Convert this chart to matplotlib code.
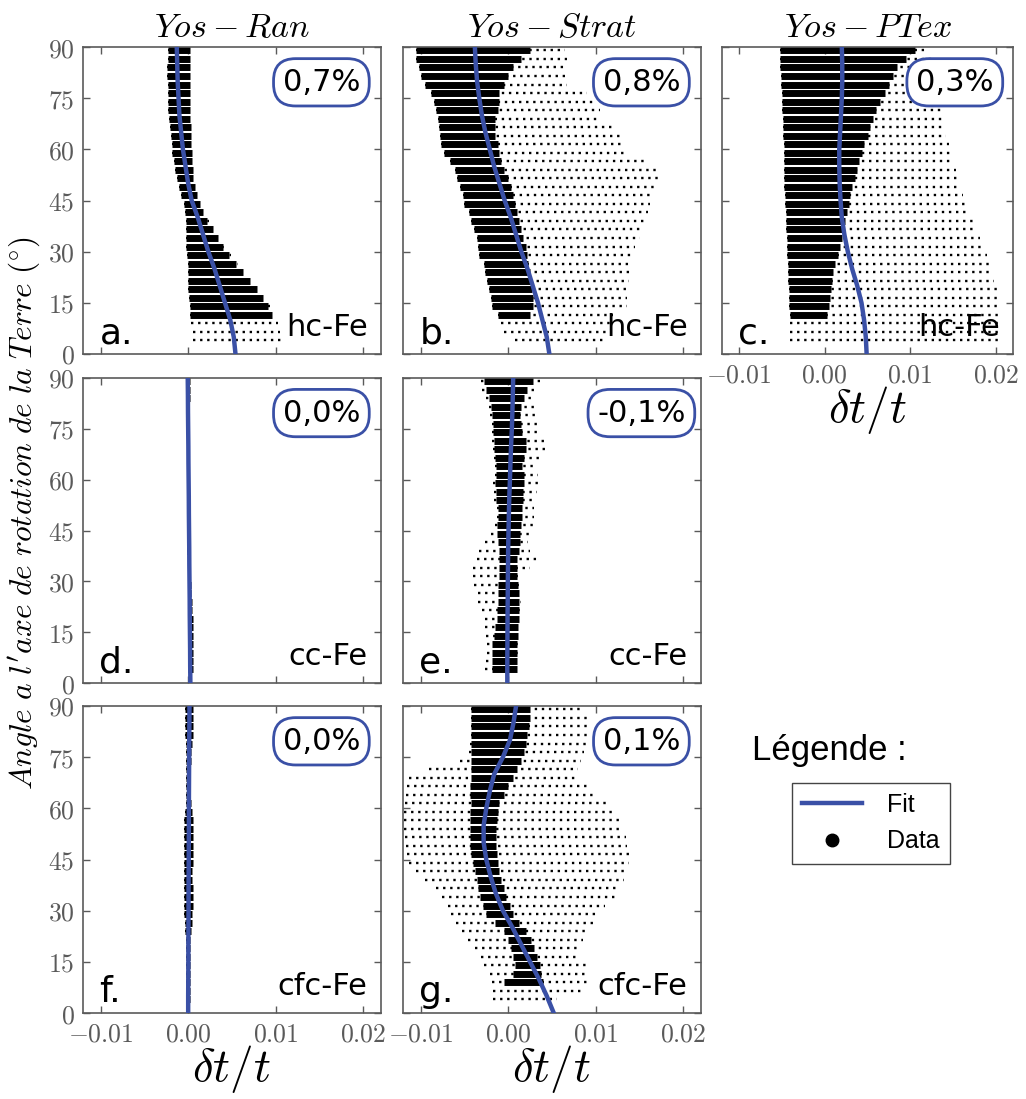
import numpy as np
import matplotlib
matplotlib.use("Agg")
import matplotlib.pyplot as plt
from matplotlib.lines import Line2D

plt.rcParams['mathtext.fontset'] = 'cm'

nan = np.nan

# Angles des bandes de donnees (degres) et angles du fit
angles = [4, 6.5, 9, 11.5, 14, 16.5, 19, 21.5, 24, 26.5, 29, 31.5, 34, 36.5, 39, 41.5, 44, 46.5,
          49, 51.5, 54, 56.5, 59, 61.5, 64, 66.5, 69, 71.5, 74, 76.5, 79, 81.5, 84, 86.5, 89]
fit_angles = [0, 5, 10, 15, 20, 25, 30, 35, 40, 45, 50, 55, 60, 65, 70, 75, 80, 85, 90]

# Valeurs en 1e-3 (dt/t) : etendue des points (lo/hi) et zone dense (core)
a_lo = [0.5, 0.5, 0.3, 0.2, 0.2, 0.1, 0.0, 0.0, 0.0, 0.0, -0.1, -0.2, -0.2, -0.3, -0.3, -0.4, -0.5, -0.8,
        -1.0, -1.3, -1.5, -1.6, -1.8, -1.9, -2.0, -2.1, -2.2, -2.3, -2.3, -2.3, -2.3, -2.4, -2.4, -2.3, -2.3]
a_hi = [10.7, 10.5, 10.2, 9.8, 9.3, 8.7, 8.0, 7.2, 6.4, 5.7, 4.9, 4.2, 3.6, 3.0, 2.4, 1.8, 1.3, 1.0,
        0.8, 0.6, 0.5, 0.4, 0.4, 0.3, 0.3, 0.3, 0.2, 0.2, 0.2, 0.2, 0.2, 0.2, 0.2, 0.2, 0.2]
a_core_lo = [nan, nan, nan, 0.2, 0.2, 0.1, 0.0, 0.0, 0.0, 0.0, -0.1, -0.2, -0.2, -0.3, -0.3, -0.4, -0.5, -0.8,
             -1.0, -1.3, -1.5, -1.6, -1.8, -1.9, -2.0, -2.1, -2.2, -2.3, -2.3, -2.3, -2.3, -2.4, -2.4, -2.3, -2.3]
a_core_hi = [nan, nan, nan, 9.6, 9.1, 8.5, 7.8, 7.0, 6.2, 5.5, 4.7, 4.0, 3.4, 2.8, 2.2, 1.7, 1.3, 1.0,
             0.8, 0.6, 0.5, 0.4, 0.4, 0.3, 0.3, 0.3, 0.2, 0.2, 0.2, 0.2, 0.2, 0.2, 0.2, 0.2, 0.2]

b_lo = [0.8, -0.5, -0.8, -1.2, -1.8, -2.0, -2.2, -2.4, -2.6, -2.8, -3.3, -3.4, -3.6, -3.9, -4.2, -4.5, -5.0, -5.2,
        -5.5, -5.8, -6.1, -6.6, -7.3, -7.7, -7.8, -7.9, -8.0, -8.2, -8.5, -8.8, -9.5, -10.0, -10.2, -10.5, -10.5]
b_hi = [11.0, 11.5, 11.8, 12.0, 13.5, 13.5, 13.8, 13.8, 14.0, 14.0, 14.2, 14.5, 15.0, 15.2, 15.5, 16.0, 16.2, 16.5,
        17.0, 17.2, 17.0, 15.5, 13.5, 13.2, 13.0, 12.0, 10.5, 10.5, 10.0, 9.0, 6.7, 6.5, 6.5, 6.7, 6.5]
b_core_lo = [nan, nan, nan, -1.2, -1.8, -2.0, -2.2, -2.4, -2.6, -2.8, -3.3, -3.4, -3.6, -3.9, -4.2, -4.5, -5.0, -5.2,
             -5.5, -5.8, -6.1, -6.6, -7.3, -7.7, -7.8, -7.9, -8.0, -8.2, -8.5, -8.8, -9.5, -10.0, -10.2, -10.5, -10.5]
b_core_hi = [nan, nan, nan, 2.5, 2.8, 2.8, 2.7, 2.6, 2.5, 2.3, 2.2, 2.0, 1.7, 1.5, 1.2, 1.0, 0.8, 0.5,
             0.3, 0.0, -0.5, -0.8, -1.0, -1.2, -1.5, -1.5, -1.5, -1.2, -1.0, -1.0, -0.5, 0.0, 0.5, 1.5, 2.5]

c_lo = [-4.1, -4.1, -4.1, -4.1, -4.2, -4.2, -4.2, -4.3, -4.3, -4.3, -4.4, -4.4, -4.4, -4.5, -4.5, -4.5, -4.6, -4.6,
        -4.7, -4.7, -4.7, -4.8, -4.8, -4.8, -4.9, -4.9, -4.9, -5.0, -5.0, -5.0, -5.1, -5.1, -5.2, -5.2, -5.2]
c_hi = [20.5, 20.5, 20.5, 20.5, 20.5, 20.3, 20.1, 19.8, 19.6, 19.3, 19.0, 18.6, 18.2, 17.8, 17.4, 17.0, 16.5, 16.2,
        15.9, 15.6, 15.3, 15.0, 14.8, 14.5, 14.2, 14.0, 13.9, 13.8, 13.7, 13.6, 13.5, 13.3, 13.0, 12.5, 12.0]
c_core_lo = [nan, nan, nan, -4.1, -4.2, -4.2, -4.2, -4.3, -4.3, -4.3, -4.4, -4.4, -4.4, -4.5, -4.5, -4.5, -4.6, -4.6,
             -4.7, -4.7, -4.7, -4.8, -4.8, -4.8, -4.9, -4.9, -4.9, -5.0, -5.0, -5.0, -5.1, -5.1, -5.2, -5.2, -5.2]
c_core_hi = [nan, nan, nan, 0.3, 0.5, 0.6, 0.7, 0.8, 1.0, 1.2, 1.5, 1.8, 2.0, 2.2, 2.4, 2.6, 2.8, 3.0,
             3.2, 3.5, 3.8, 4.0, 4.3, 4.6, 5.0, 5.3, 5.6, 6.0, 6.5, 7.0, 7.5, 8.0, 8.5, 9.5, 10.5]

d_lo = [0.0, 0.0, 0.0, 0.0, 0.0, 0.0, 0.0, 0.0, -0.05, -0.05, -0.05, -0.05, -0.05, -0.05, -0.1, -0.1, -0.1, -0.1,
        -0.1, -0.1, -0.1, -0.1, -0.1, -0.1, -0.1, -0.15, -0.15, -0.15, -0.15, -0.15, -0.2, -0.2, -0.2, -0.2, -0.2]
d_hi = [0.55, 0.55, 0.55, 0.55, 0.55, 0.5, 0.5, 0.45, 0.4, 0.35, 0.3, 0.25, 0.25, 0.25, 0.2, 0.2, 0.2, 0.2,
        0.2, 0.15, 0.15, 0.15, 0.15, 0.15, 0.15, 0.15, 0.1, 0.1, 0.1, 0.1, 0.15, 0.15, 0.2, 0.2, 0.2]

e_lo = [-2.6, -2.5, -2.4, -2.4, -2.5, -2.6, -2.7, -3.0, -3.4, -3.4, -3.9, -4.0, -4.0, -3.6, -3.3, -2.6, -2.0, -1.5,
        -1.3, -1.3, -1.6, -1.6, -1.7, -1.5, -1.5, -1.6, -1.7, -1.8, -1.9, -1.9, -2.1, -2.2, -2.5, -3.0, -3.1]
e_hi = [1.2, 1.2, 1.2, 1.2, 1.3, 1.3, 1.4, 1.5, 1.5, 1.4, 1.3, 1.5, 2.5, 3.3, 2.5, 2.3, 2.5, 3.1,
        3.0, 2.9, 3.2, 3.3, 3.6, 3.4, 3.3, 4.0, 4.2, 4.2, 3.5, 3.3, 3.3, 3.0, 2.9, 3.2, 3.6]
e_core_lo = [-1.8, -1.8, -1.8, -1.8, -1.6, -1.5, -1.3, -1.3, -1.2, -1.2, -1.2, -1.0, -1.0, -1.0, -1.0, -1.2, -1.3, -1.3,
             -1.2, -1.2, -1.4, -1.4, -1.5, -1.4, -1.4, -1.5, -1.6, -1.6, -1.7, -1.7, -1.8, -2.0, -2.2, -2.5, -2.8]
e_core_hi = [1.0, 1.0, 1.0, 1.0, 1.1, 1.1, 1.2, 1.2, 1.2, 1.2, 1.1, 1.0, 1.0, 1.0, 1.2, 1.3, 1.3, 1.5,
             1.6, 1.6, 1.7, 1.7, 1.8, 1.8, 1.6, 1.8, 2.0, 2.0, 1.6, 1.5, 1.4, 1.5, 1.8, 2.2, 2.8]

f_lo = [-0.3, -0.3, -0.3, -0.3, -0.3, -0.3, -0.3, -0.3, -0.35, -0.4, -0.45, -0.45, -0.45, -0.45, -0.45, -0.45, -0.45, -0.45,
        -0.45, -0.45, -0.45, -0.45, -0.4, -0.3, -0.25, -0.25, -0.25, -0.25, -0.25, -0.3, -0.3, -0.35, -0.4, -0.4, -0.4]
f_hi = [0.25, 0.25, 0.25, 0.25, 0.25, 0.25, 0.25, 0.25, 0.3, 0.4, 0.45, 0.5, 0.5, 0.5, 0.45, 0.45, 0.5, 0.5,
        0.5, 0.5, 0.5, 0.5, 0.4, 0.3, 0.25, 0.25, 0.25, 0.25, 0.3, 0.35, 0.4, 0.5, 0.6, 0.6, 0.6]

g_lo = [-1.7, -1.7, -1.9, -2.1, -2.8, -3.1, -3.8, -4.6, -5.3, -5.9, -6.5, -6.9, -7.6, -8.2, -9.5, -10.5, -11.3, -11.6,
        -11.7, -11.8, -11.9, -11.9, -11.9, -11.8, -11.7, -11.5, -11.3, -9.0, -5.5, -4.5, -4.3, -4.2, -4.2, -4.2, -4.2]
g_hi = [5.6, 8.5, 9.4, 9.2, 9.0, 8.0, 7.9, 8.5, 9.2, 9.8, 10.3, 11.0, 12.2, 12.8, 13.2, 13.5, 13.8, 13.8,
        13.6, 13.4, 13.0, 12.8, 12.2, 11.2, 10.0, 9.0, 8.0, 8.0, 8.3, 8.6, 9.0, 9.2, 9.2, 9.0, 8.5]
g_core_lo = [nan, nan, -0.5, 0.5, 0.8, 0.6, 0.3, 0.0, -0.5, -1.5, -2.5, -2.9, -3.2, -3.4, -3.6, -3.8, -4.0, -4.2,
             -4.3, -4.4, -4.4, -4.4, -4.3, -4.2, -4.3, -4.3, -4.2, -4.2, -4.2, -4.2, -4.2, -4.2, -4.2, -4.2, -4.2]
g_core_hi = [nan, nan, 4.0, 3.8, 3.6, 3.3, 3.0, 2.6, 2.0, 1.2, 0.6, 0.2, -0.2, -0.5, -0.8, -1.0, -1.2, -1.3,
             -1.4, -1.4, -1.4, -1.3, -1.2, -1.0, -0.5, 0.0, 0.5, 1.0, 1.5, 1.8, 2.0, 2.2, 2.4, 2.5, 2.5]

# Courbes de fit (1e-3)
fit_a = [5.4, 5.2, 4.8, 4.2, 3.6, 3.0, 2.3, 1.7, 1.1, 0.4, 0.0, -0.3, -0.6, -0.8, -1.0, -1.1, -1.2, -1.25, -1.3]
fit_b = [4.7, 4.4, 3.9, 3.4, 2.8, 2.2, 1.5, 0.9, 0.3, -0.4, -1.0, -1.6, -2.1, -2.6, -3.0, -3.3, -3.55, -3.7, -3.8]
fit_c = [4.9, 4.8, 4.6, 4.3, 3.8, 3.2, 2.7, 2.3, 2.0, 1.85, 1.75, 1.7, 1.7, 1.8, 1.9, 2.0, 2.05, 2.05, 2.0]
fit_d = [0.25, 0.23, 0.22, 0.2, 0.18, 0.17, 0.15, 0.13, 0.12, 0.1, 0.08, 0.07, 0.05, 0.03, 0.02, 0.0, -0.02, -0.03, -0.05]
fit_e = [-0.1, -0.1, -0.09, -0.08, -0.07, -0.05, -0.04, -0.02, 0.0, 0.04, 0.08, 0.13, 0.2, 0.26, 0.33, 0.42, 0.48, 0.53, 0.57]
fit_f = [0.0, 0.0, 0.01, 0.02, 0.02, 0.03, 0.04, 0.04, 0.05, 0.06, 0.07, 0.08, 0.08, 0.09, 0.1, 0.11, 0.12, 0.14, 0.15]
fit_g = [5.2, 4.4, 3.5, 2.5, 1.5, 0.5, -0.6, -1.4, -2.0, -2.5, -2.8, -2.8, -2.5, -2.1, -1.6, -0.6, 0.2, 0.6, 0.9]

percents = {'a': '0,7%', 'b': '0,8%', 'c': '0,3%', 'd': '0,0%', 'e': '-0,1%', 'f': '0,0%', 'g': '0,1%'}
phases = {'a': 'hc-Fe', 'b': 'hc-Fe', 'c': 'hc-Fe', 'd': 'cc-Fe', 'e': 'cc-Fe', 'f': 'cfc-Fe', 'g': 'cfc-Fe'}
titles = {'a': r'$Yos-Ran$', 'b': r'$Yos-Strat$', 'c': r'$Yos-PTex$'}

panels = {
    'a': (a_lo, a_hi, a_core_lo, a_core_hi, fit_a),
    'b': (b_lo, b_hi, b_core_lo, b_core_hi, fit_b),
    'c': (c_lo, c_hi, c_core_lo, c_core_hi, fit_c),
    'd': (d_lo, d_hi, d_lo, d_hi, fit_d),
    'e': (e_lo, e_hi, e_core_lo, e_core_hi, fit_e),
    'f': (f_lo, f_hi, f_lo, f_hi, fit_f),
    'g': (g_lo, g_hi, g_core_lo, g_core_hi, fit_g),
}

# Position des cadres en pixels (x0, y0, x1, y1)
W, H = 1026, 1099
cadres = {
    'a': (83, 47, 381, 354), 'b': (403, 47, 701, 354), 'c': (722, 47, 1013, 354),
    'd': (83, 378, 381, 683), 'e': (403, 378, 701, 683),
    'f': (83, 706, 381, 1013), 'g': (403, 706, 701, 1013),
}

bleu = '#3a50a6'
gris = '#5a5a5a'

fig = plt.figure(figsize=(W / 100, H / 100), dpi=100)

for nom, (lo, hi, clo, chi, fit) in panels.items():
    x0, y0, x1, y1 = cadres[nom]
    ax = fig.add_axes([x0 / W, 1 - y1 / H, (x1 - x0) / W, (y1 - y0) / H])
    ang = np.array(angles)

    # points epars (pointilles) puis zone dense
    ax.hlines(ang, np.array(lo) * 1e-3, np.array(hi) * 1e-3, colors='k',
              linestyles=(0, (1, 2)), linewidth=1.7, zorder=2)
    m = ~np.isnan(np.array(clo, dtype=float))
    ax.hlines(ang[m], np.array(clo)[m] * 1e-3, np.array(chi)[m] * 1e-3, colors='k',
              linewidth=5.0, zorder=2)

    # fit
    ax.plot(np.array(fit) * 1e-3, fit_angles, color=bleu, lw=3.2, zorder=4)

    ax.set_xlim(-0.012, 0.022)
    ax.set_ylim(0, 90)
    ax.set_xticks([-0.01, 0.0, 0.01, 0.02])
    ax.set_yticks([0, 15, 30, 45, 60, 75, 90])
    ax.tick_params(direction='in', top=True, right=True, length=5, width=1, color=gris,
                   labelcolor=gris, labelsize=18.5, pad=6)
    for s in ax.spines.values():
        s.set_color(gris)
        s.set_linewidth(1.2)

    if nom in ('c', 'f', 'g'):
        ax.set_xticklabels([r'$-0.01$', r'$0.00$', r'$0.01$', r'$0.02$'])
        ax.set_xlabel(r'$\delta t/t$', fontsize=34, labelpad=-3)
    else:
        ax.set_xticklabels([])
    if nom in ('a', 'd', 'f'):
        ax.set_yticklabels([r'$%d$' % v for v in [0, 15, 30, 45, 60, 75, 90]])
    else:
        ax.set_yticklabels([])

    if nom in titles:
        ax.set_title(titles[nom], fontsize=24.5, pad=7)

    # annotations
    ax.text(0.055, 0.035, nom + '.', transform=ax.transAxes, fontsize=26,
            family='DejaVu Sans', ha='left', va='baseline', zorder=6)
    ax.text(0.955, 0.06, phases[nom], transform=ax.transAxes, fontsize=22,
            family='DejaVu Sans', ha='right', va='baseline', zorder=6)
    ax.text(0.80, 0.885, percents[nom], transform=ax.transAxes, fontsize=22,
            family='DejaVu Sans', ha='center', va='center', zorder=7,
            bbox=dict(boxstyle='round,pad=0.3,rounding_size=0.72', fc='white',
                      ec=bleu, lw=2))

# axe vertical commun
fig.text(25 / W, 1 - 513 / H, r"$Angle\ a\ l'axe\ de\ rotation\ de\ la\ Terre\ (^{\circ})$",
         rotation=90, fontsize=22.5, ha='center', va='center')

# legende
fig.text(752 / W, 1 - 760 / H, u'Légende :', fontsize=25, family='Liberation Sans',
         ha='left', va='baseline')
poignees = [Line2D([], [], color=bleu, lw=3.2, label='Fit'),
            Line2D([], [], ls='', marker='o', color='k', ms=9, label='Data')]
fig.legend(handles=poignees, loc='upper left', bbox_to_anchor=(792 / W, 1 - 783 / H),
           frameon=True, fancybox=False, edgecolor='#444444', framealpha=1,
           prop={'family': 'Liberation Sans', 'size': 18}, handlelength=2.4,
           borderpad=0.4, labelspacing=0.5, handletextpad=1.0, borderaxespad=0)

fig.savefig('out.png', dpi=100)
